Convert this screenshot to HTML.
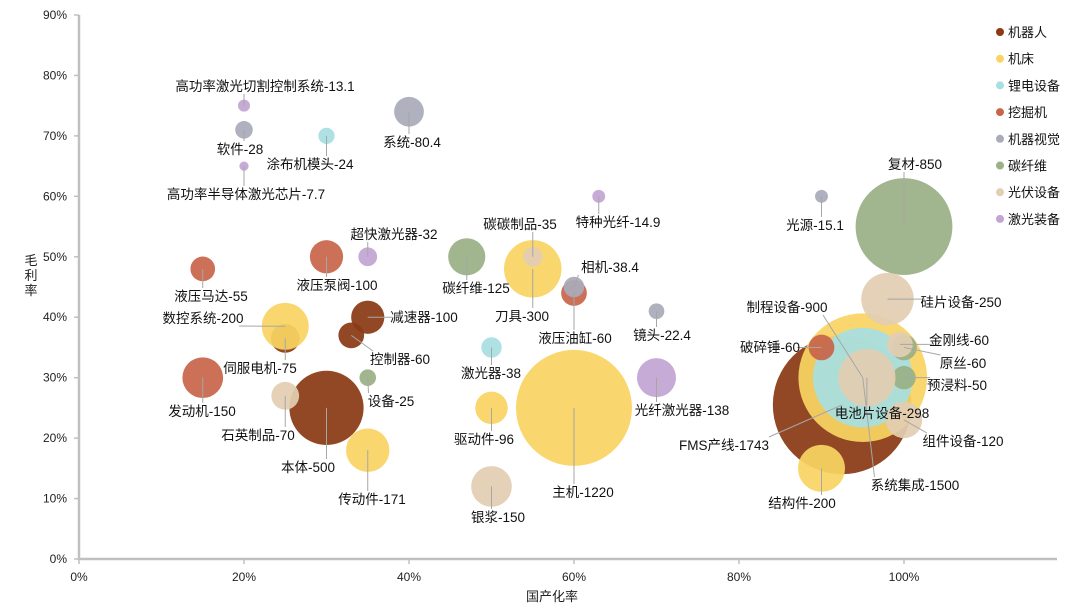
<!DOCTYPE html>
<html><head><meta charset="utf-8">
<style>
html,body{margin:0;padding:0;background:#fff;}
svg{display:block;font-family:"Liberation Sans","Noto Sans CJK SC",sans-serif;}
</style></head>
<body>
<svg id="chart" width="1080" height="614" viewBox="0 0 1080 614" xmlns="http://www.w3.org/2000/svg">
<g id="axes"></g>
<g id="bubbles"></g>
<g id="labels"></g>
<g id="legend"></g>
<text x="552" y="601" font-size="13" text-anchor="middle" fill="#222">国产化率</text>
<text font-size="13" fill="#222" text-anchor="middle"><tspan x="31" y="265">毛</tspan><tspan x="31" y="280">利</tspan><tspan x="31" y="295">率</tspan></text>
</svg>
<script>
const seriesNames = ["机器人","机床","锂电设备","挖掘机","机器视觉","碳纤维","光伏设备","激光装备"];
const seriesColors = ["#8B3A14","#F9D463","#A8DFE1","#C8654A","#A9ABBA","#9AB086","#E2CEB1","#C3A5D4"];
const xTicks = [0,20,40,60,80,100];
const yTicks = [0,10,20,30,40,50,60,70,80,90];
const pointSeries = [0,0,0,0,0, 1,1,1,1,1,1,1, 2,2,2, 3,3,3,3,3, 4,4,4,4,4, 5,5,5,5,5, 6,6,6,6,6,6,6, 7,7,7,7,7];
const pointNames = ["本体","减速器","控制器","伺服电机","FMS产线",
 "数控系统","传动件","刀具","驱动件","主机","系统集成","结构件",
 "涂布机模头","激光器","制程设备",
 "液压马达","液压泵阀","发动机","液压油缸","破碎锤",
 "软件","系统","相机","镜头","光源",
 "碳纤维","设备","复材","原丝","预浸料",
 "石英制品","碳碳制品","银浆","硅片设备","金刚线","电池片设备","组件设备",
 "高功率激光切割控制系统","高功率半导体激光芯片","超快激光器","特种光纤","光纤激光器"];
const localization = [30,35,33,25,92.5, 25,35,55,50,60,95,90, 30,50,95, 15,30,15,60,90, 20,40,60,70,90, 47,35,100,100,100, 25,55,50,98,99.5,95.5,100, 20,20,35,63,70];
const margin = [25,40,37,36.5,25.5, 38.5,18,48,25,25,30,15, 70,35,30, 48,50,30,44,35, 71,74,45,41,60, 50,30,55,35,30, 27,50,12,43,35.5,30,23, 75,65,50,60,30];
const sizes = [500,100,60,75,1743, 200,171,300,96,1220,1500,200, 24,38,900, 55,100,150,60,60, 28,80.4,38.4,22.4,15.1, 125,25,850,60,50, 70,35,150,250,60,298,120, 13.1,7.7,32,14.9,138];
const labelPos = [[308,467],[424,317],[400,359],[260,368],[724,445],
 [203,318],[372,499],[522,316],[484,439],[583,492],[915,485],[802,503],
 [310,164],[491,373],[787,307],
 [211,296],[337,285],[202,411],[575,338],[770,347],
 [240,149],[412,142],[610,267],[662,335],[815,225],
 [476,288],[391,401],[915,164],[963,363],[957,385],
 [258,435],[520,224],[498,517],[961,302],[959,340],[882,413],[963,441],
 [265,86],[246,194],[394,234],[618,222],[682,410]];

const NS="http://www.w3.org/2000/svg";
const X0=79,X1=904,Y0=559,Y90=15;
function xs(v){return X0+(X1-X0)*v/100;}
function ys(v){return Y0-(Y0-Y90)*v/90;}
function rs(s){return 1.66*Math.sqrt(s);}
function mk(tag,attrs,parent){const e=document.createElementNS(NS,tag);for(const k in attrs)e.setAttribute(k,attrs[k]);parent.appendChild(e);return e;}

const axes=document.getElementById('axes');
let yl=mk('line',{x1:X0,y1:Y90,x2:X0,y2:Y0+1,stroke:'#c0c0c0','stroke-width':2.5},axes);


let xl=mk('line',{x1:X0-1,y1:Y0,x2:1057,y2:Y0,stroke:'#c0c0c0','stroke-width':2.5},axes);


yTicks.forEach(t=>{
  const y=ys(t);
  mk('line',{x1:X0-5,y1:y,x2:X0,y2:y,stroke:'#c0c0c0','stroke-width':1.5},axes);
  const tx=mk('text',{x:X0-12,y:y+4,'font-size':12,'text-anchor':'end',fill:'#222'},axes);
  tx.textContent=t+'%';
  
  
});
xTicks.forEach(t=>{
  const x=xs(t);
  mk('line',{x1:x,y1:Y0,x2:x,y2:Y0+5,stroke:'#c0c0c0','stroke-width':1.5},axes);
  const tx=mk('text',{x:x,y:Y0+22,'font-size':12,'text-anchor':'middle',fill:'#222'},axes);
  tx.textContent=t+'%';
  
  
});

const bub=document.getElementById('bubbles');
const lab=document.getElementById('labels');
const order=pointNames.map((_,i)=>i).sort((a,b)=>pointSeries[a]-pointSeries[b]);
order.forEach(i=>{
  const c=mk('circle',{cx:xs(localization[i]),cy:ys(margin[i]),r:rs(sizes[i]),fill:seriesColors[pointSeries[i]],'fill-opacity':0.93},bub);
  
  
});
pointNames.forEach((n,i)=>{
  const cx=xs(localization[i]),cy=ys(margin[i]);
  const [lx,ly]=labelPos[i];
  const txt=n+'-'+sizes[i];
  const w=txt.length*9;
  let ex=Math.max(lx-w/2,Math.min(cx,lx+w/2)), ey=Math.max(ly-8,Math.min(cy,ly+8));
  if(Math.hypot(ex-cx,ey-cy)>8){
    const l=mk('line',{x1:cx,y1:cy,x2:ex,y2:ey,stroke:'#a6a6a6','stroke-width':1},lab);
    
    
  }
});
pointNames.forEach((n,i)=>{
  const [lx,ly]=labelPos[i];
  const t=mk('text',{x:lx,y:ly+5,'font-size':13.5,'text-anchor':'middle',fill:'#111'},lab);
  t.textContent=n+'-'+sizes[i];
  
  
});

const leg=document.getElementById('legend');
seriesNames.forEach((s,i)=>{
  const y=32+i*26.7;
  const g=mk('g',{},leg);
  
  
  mk('circle',{cx:1000,cy:y,r:4,fill:seriesColors[i]},g);
  const t=mk('text',{x:1008,y:y+5,'font-size':13,fill:'#111'},g);
  t.textContent=s;
});
</script>
</body></html>
